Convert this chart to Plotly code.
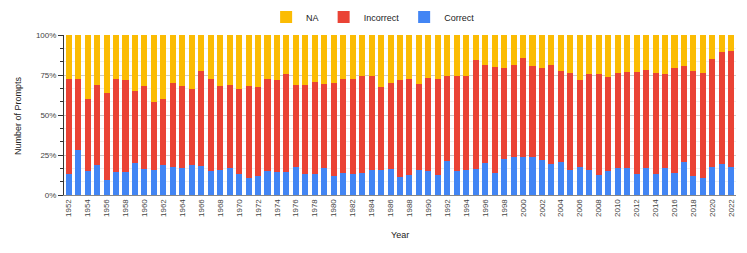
import plotly.graph_objects as go

years = list(range(1952, 2023))

# Top of the "Correct" segment (percent of prompts)
correct = [13.1, 27.9, 15.2, 18.75, 9.4, 14.4, 14.2, 19.8, 16.25, 15.4, 18.75, 17.5, 17.1, 18.75,
           17.9, 15.2, 15.4, 17.1, 13.1, 10.6, 11.7, 15.2, 14.2, 14.6, 17.7, 12.9, 13.3, 17.1,
           11.9, 13.75, 12.9, 13.75, 15.8, 15.8, 16.25, 11.25, 12.5, 15.6, 15.2, 12.5, 21.5, 15.2,
           15.8, 16.5, 19.8, 13.75, 22.7, 23.5, 23.5, 23.5, 21.9, 19.6, 20.4, 15.8, 17.5, 15.6,
           12.5, 15.2, 16.7, 16.7, 13.1, 16.7, 13.1, 16.7, 14.0, 20.6, 11.9, 10.4, 17.7, 19.4, 17.7]

# Top of the "Incorrect" segment (cumulative percent)
incorrect_top = [72.7, 72.7, 60.2, 68.75, 63.5, 72.7, 72.1, 65.2, 68.1, 58.1, 60.2, 70.0, 67.9, 66.0,
                 77.3, 72.5, 67.9, 69.0, 66.5, 68.3, 67.5, 72.5, 71.7, 75.8, 68.75, 68.75, 70.4, 69.6,
                 70.0, 72.5, 72.7, 74.2, 74.6, 67.5, 70.0, 72.1, 72.5, 69.6, 73.3, 72.5, 74.2, 74.2,
                 74.6, 84.4, 81.5, 80.0, 79.4, 81.5, 85.4, 80.6, 79.2, 81.0, 77.7, 76.0, 71.7, 75.6,
                 75.6, 73.5, 76.25, 77.1, 76.9, 78.1, 76.25, 75.8, 79.4, 80.6, 77.5, 76.25, 85.0, 89.6, 90.0]

incorrect = [round(t - c, 2) for t, c in zip(incorrect_top, correct)]
na = [round(100 - t, 2) for t in incorrect_top]

y_tickvals = [0, 25, 50, 75, 100]
y_ticktext = ["0%", "25%", "50%", "75%", "100%"]

FONT = "Liberation Sans, Arial, sans-serif"

# The page body has an 8px margin; the figure is sized to fit the window after it.
OFF = 8
W, H = 747 - OFF, 253 - OFF
pl, pr, pt, pb = 64 - OFF, 736 - OFF, 35 - OFF, 195 - OFF

fig = go.Figure()
fig.add_trace(go.Bar(x=years, y=correct, name="Correct", marker_color="#4285F4", marker_line_width=0))
fig.add_trace(go.Bar(x=years, y=incorrect, name="Incorrect", marker_color="#EA4335", marker_line_width=0))
fig.add_trace(go.Bar(x=years, y=na, name="NA", marker_color="#FBBC04", marker_line_width=0))

fig.update_layout(
    barmode="stack",
    bargap=0.36,
    width=W, height=H,
    margin=dict(l=pl, r=W - pr, t=pt, b=H - pb, pad=0, autoexpand=False),
    paper_bgcolor="white", plot_bgcolor="white",
    font=dict(family=FONT, size=9, color="#222222"),
    showlegend=True,
    legend=dict(orientation="h", x=0.46, xanchor="center", y=(pb - (17 - OFF)) / (pb - pt),
                yanchor="middle", traceorder="reversed", bgcolor="rgba(0,0,0,0)",
                font=dict(size=9, color="#222222")),
    xaxis=dict(
        range=[1951.5, 2022.5], tickmode="linear", tick0=1952, dtick=2,
        tickangle=-90, showgrid=False, showline=True, linecolor="#888888", linewidth=1,
        ticks="", tickfont=dict(size=8, color="#444444"), automargin=False,
    ),
    yaxis=dict(
        range=[0, 100], tickmode="array", tickvals=y_tickvals, ticktext=y_ticktext,
        showgrid=True, gridcolor="#cccccc", gridwidth=1,
        showline=True, linecolor="#333333", linewidth=1,
        ticks="outside", ticklen=5, tickcolor="#333333",
        minor=dict(dtick=100 / 12, tick0=0, ticks="outside", ticklen=3, tickcolor="#333333",
                   showgrid=True, gridcolor="#eeeeee"),
        tickfont=dict(size=8, color="#444444"), automargin=False,
        zeroline=False,
    ),
)

# axis titles placed at their pixel positions (converted to paper coordinates)
def to_paper(px, py):
    return (px - OFF - pl) / (pr - pl), (pb - (py - OFF)) / (pb - pt)

yx, yy = to_paper(400, 235)
nx, ny = to_paper(18, 115)
fig.add_annotation(text="Year", x=yx, y=yy, xref="paper", yref="paper", showarrow=False,
                   xanchor="center", yanchor="middle", font=dict(size=9, color="#222222"))
fig.add_annotation(text="Number of Prompts", x=nx, y=ny, xref="paper", yref="paper", showarrow=False,
                   textangle=-90, xanchor="center", yanchor="middle", font=dict(size=9, color="#222222"))

fig.write_html("out.html")
